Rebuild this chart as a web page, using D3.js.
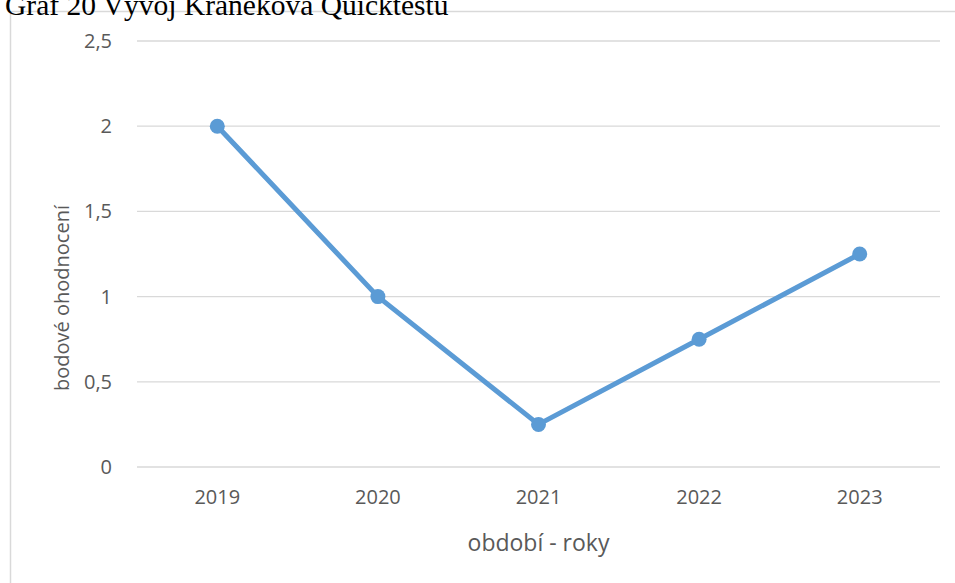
<!DOCTYPE html>
<html><head><meta charset="utf-8">
<script src="https://cdn.jsdelivr.net/npm/d3@7"></script>
<style>body{margin:0;background:#fff}svg{display:block}</style>
</head><body>
<script>
const years = ["2019","2020","2021","2022","2023"];
const values = [2, 1, 0.25, 0.75, 1.25];
const yTicks = [0, 0.5, 1, 1.5, 2, 2.5];
const titleText = "Graf 20 Vývoj Kraněkova Quicktestu";
const xTitle = "období - roky";
const yTitle = "bodové ohodnocení";

const W = 955, H = 583;
const svg = d3.select("body").append("svg").attr("width", W).attr("height", H);
const font = "'Open Sans', 'Noto Sans', sans-serif";

svg.append("rect").attr("x", 10.5).attr("y", 11.5).attr("width", 960).attr("height", 600)
  .attr("fill", "#fff").attr("stroke", "#d9d9d9").attr("stroke-width", 1.5);

svg.append("text").attr("x", 5).attr("y", 15).text(titleText)
  .attr("font-family", "'Liberation Serif', 'Times New Roman', serif").attr("font-size", 29.5).attr("fill", "#000");

const L = 137, R = 940, T = 41, B = 467;
const x = d3.scaleBand().domain(years).range([L, R]);
const y = d3.scaleLinear().domain([0, 2.5]).range([B, T]);

const g = svg.append("g");
g.selectAll("line.grid").data(yTicks).enter().append("line")
  .attr("x1", L).attr("x2", R).attr("y1", d => y(d)).attr("y2", d => y(d))
  .attr("stroke", "#d9d9d9").attr("stroke-width", 1.3);

const yAxis = g.append("g").attr("transform", `translate(${L},0)`)
  .call(d3.axisLeft(y).tickValues(yTicks).tickSize(0).tickPadding(25).tickFormat(d => String(d).replace(".", ",")));
yAxis.select(".domain").remove();
yAxis.selectAll("text").attr("font-family", font).attr("font-size", 20).attr("fill", "#595959");

const xAxis = g.append("g").attr("transform", `translate(0,${B})`)
  .call(d3.axisBottom(x).tickSize(0).tickPadding(23));
xAxis.select(".domain").remove();
xAxis.selectAll("text").attr("font-family", font).attr("font-size", 20).attr("fill", "#595959");

const cx = d => x(d) + x.bandwidth() / 2;
const line = d3.line().x((d, i) => cx(years[i])).y(d => y(d));
g.append("path").datum(values).attr("d", line).attr("fill", "none")
  .attr("stroke", "#5B9BD5").attr("stroke-width", 5).attr("stroke-linejoin", "round");
g.selectAll("circle").data(values).enter().append("circle")
  .attr("cx", (d, i) => cx(years[i])).attr("cy", d => y(d)).attr("r", 7.5)
  .attr("fill", "#5B9BD5");

svg.append("text").attr("x", (L + R) / 2).attr("y", 551).attr("text-anchor", "middle")
  .text(xTitle).attr("font-family", font).attr("font-size", 23).attr("fill", "#595959");
svg.append("text").attr("transform", `translate(69,${(T + B) / 2 + 44}) rotate(-90)`).attr("text-anchor", "middle")
  .text(yTitle).attr("font-family", font).attr("font-size", 20).attr("fill", "#595959");
</script>
</body></html>
